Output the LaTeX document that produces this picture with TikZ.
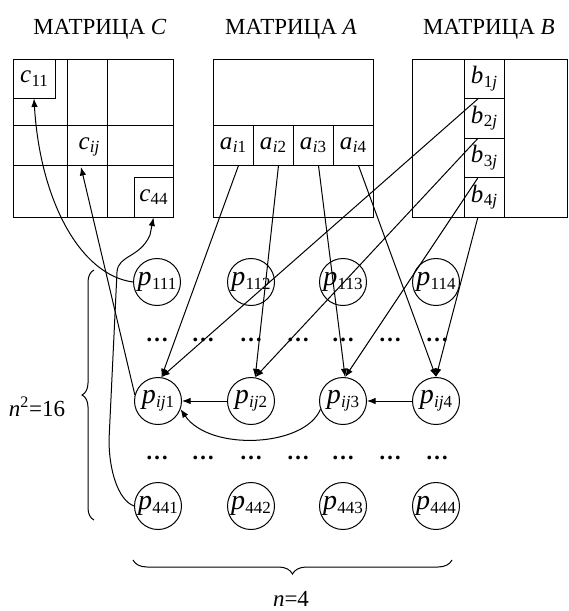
\documentclass[tikz,border=0pt]{standalone}
\usepackage{fontspec}
\setmainfont{Liberation Serif}
\usetikzlibrary{arrows.meta,decorations.pathreplacing,calc}
\newcommand\lbl[2]{\textit{#1}\kern0.3pt\raisebox{-0.3ex}{\fontsize{17}{17}\selectfont #2}}
\begin{document}
\begin{tikzpicture}[x=1pt,y=-1pt,
  ln/.style={line width=1pt},
  arr/.style={line width=1pt,-{Latex[length=8.5pt,width=6.5pt]}},
  proc/.style={circle,draw,line width=1pt,minimum size=47pt,inner sep=0pt,font=\fontsize{28}{28}\selectfont},
  cell/.style={rectangle,draw,line width=1pt,minimum width=40pt,minimum height=40pt,inner sep=0pt,font=\fontsize{25}{25}\selectfont},
  txt/.style={inner sep=0pt,font=\fontsize{25}{25}\selectfont},
  ttl/.style={font=\fontsize{23}{23}\selectfont},
  dts/.style={inner sep=0pt,anchor=base,font=\fontsize{23}{23}\selectfont\bfseries},
  brc/.style={line width=1pt,decorate}]
\useasboundingbox (0,0) rectangle (569,611);
% titles
\node[ttl] (tC) at (100,29) {МАТРИЦА \textit{C}};
\node[ttl] (tA) at (291,29) {МАТРИЦА \textit{A}};
\node[ttl] (tB) at (489,29) {МАТРИЦА \textit{B}};
% matrix C
\draw[ln] (13,59) rectangle (173,217);
\draw[ln] (67,59) -- (67,217) (107,59) -- (107,217) (13,125) -- (173,125) (13,165) -- (173,165);
\node[cell,minimum width=42pt,minimum height=39pt] (c11) at (34,78.5) {\lbl{c}{11}};
\node[cell,minimum width=39pt] (c44) at (153.5,197) {\lbl{c}{44}};
\node[txt] (cij) at (89,147) {\lbl{c}{\textit{ij}}};
\coordinate (cijt) at (81,167);
% matrix A
\draw[ln] (213,59) rectangle (373,217);
\node[cell] (ai1) at (233,145) {\lbl{a}{\textit{i}1}};
\node[cell] (ai2) at (273,145) {\lbl{a}{\textit{i}2}};
\node[cell] (ai3) at (313,145) {\lbl{a}{\textit{i}3}};
\node[cell] (ai4) at (353,145) {\lbl{a}{\textit{i}4}};
% matrix B
\draw[ln] (412,59) rectangle (567,217);
\node[cell,minimum height=39.5pt] (b1j) at (484,78.75) {\lbl{b}{1\textit{j}}};
\node[cell,minimum height=39.5pt] (b2j) at (484,118.25) {\lbl{b}{2\textit{j}}};
\node[cell,minimum height=39.5pt] (b3j) at (484,157.75) {\lbl{b}{3\textit{j}}};
\node[cell,minimum height=39.5pt] (b4j) at (484,197.25) {\lbl{b}{4\textit{j}}};
% processors
\node[proc] (p111) at (157,282) {\lbl{p}{111}};
\node[proc] (p112) at (251,282) {\lbl{p}{112}};
\node[proc] (p113) at (343,282) {\lbl{p}{113}};
\node[proc] (p114) at (436,282) {\lbl{p}{114}};
\node[proc] (pij1) at (158,401) {\lbl{p}{\textit{ij}1}};
\node[proc] (pij2) at (251,401) {\lbl{p}{\textit{ij}2}};
\node[proc] (pij3) at (343,401) {\lbl{p}{\textit{ij}3}};
\node[proc] (pij4) at (436,401) {\lbl{p}{\textit{ij}4}};
\node[proc] (p441) at (158,506) {\lbl{p}{441}};
\node[proc] (p442) at (251,506) {\lbl{p}{442}};
\node[proc] (p443) at (343,506) {\lbl{p}{443}};
\node[proc] (p444) at (436,506) {\lbl{p}{444}};
% dots
\foreach \x in {157,203,251,298,343,390,437}{
  \node[dts] (da\x) at (\x,341) {…};
  \node[dts] (db\x) at (\x,459) {…};
}
% connectors to C
\draw[arr] (p111.west) .. controls (80,275) and (40,200) .. (c11.south);
\draw[arr] (pij1.165) -- (cijt);
\draw[arr] (p441.west) .. controls (118,500) and (109,470) .. (109,440) -- (117,272) .. controls (118,255) and (140,258) .. (150,235) -- (c44.south);
% A rows to processors
\draw[arr] (ai1.-75) -- (pij1.82);
\draw[arr] (ai2.-75) -- (pij2.80);
\draw[arr] (ai3.-75) -- (pij3.85);
\draw[arr] (ai4.-75) -- (pij4.90);
% B column to processors
\draw[arr] (b1j.-107) -- (pij1.82);
\draw[arr] (b2j.-107) -- (pij2.80);
\draw[arr] (b3j.-107) -- (pij3.85);
\draw[arr] (b4j.-107) -- (pij4.90);
% reduction
\draw[arr] (pij2.west) -- (pij1.east);
\draw[arr] (pij4.west) -- (pij3.east);
\draw[arr] (pij3.200) .. controls (305,447) and (210,452) .. (pij1.-20);
% braces
\draw[brc,decoration={brace,amplitude=12pt}] (94,520) -- (94,270);
\node[ttl] (n16) at (37,407) {\textit{n}\textsuperscript{2}=16};
\draw[brc,decoration={brace,amplitude=14pt}] (452,560) -- (133,560);
\node[ttl] (n4) at (291,599) {\textit{n}=4};
\end{tikzpicture}
\end{document}
